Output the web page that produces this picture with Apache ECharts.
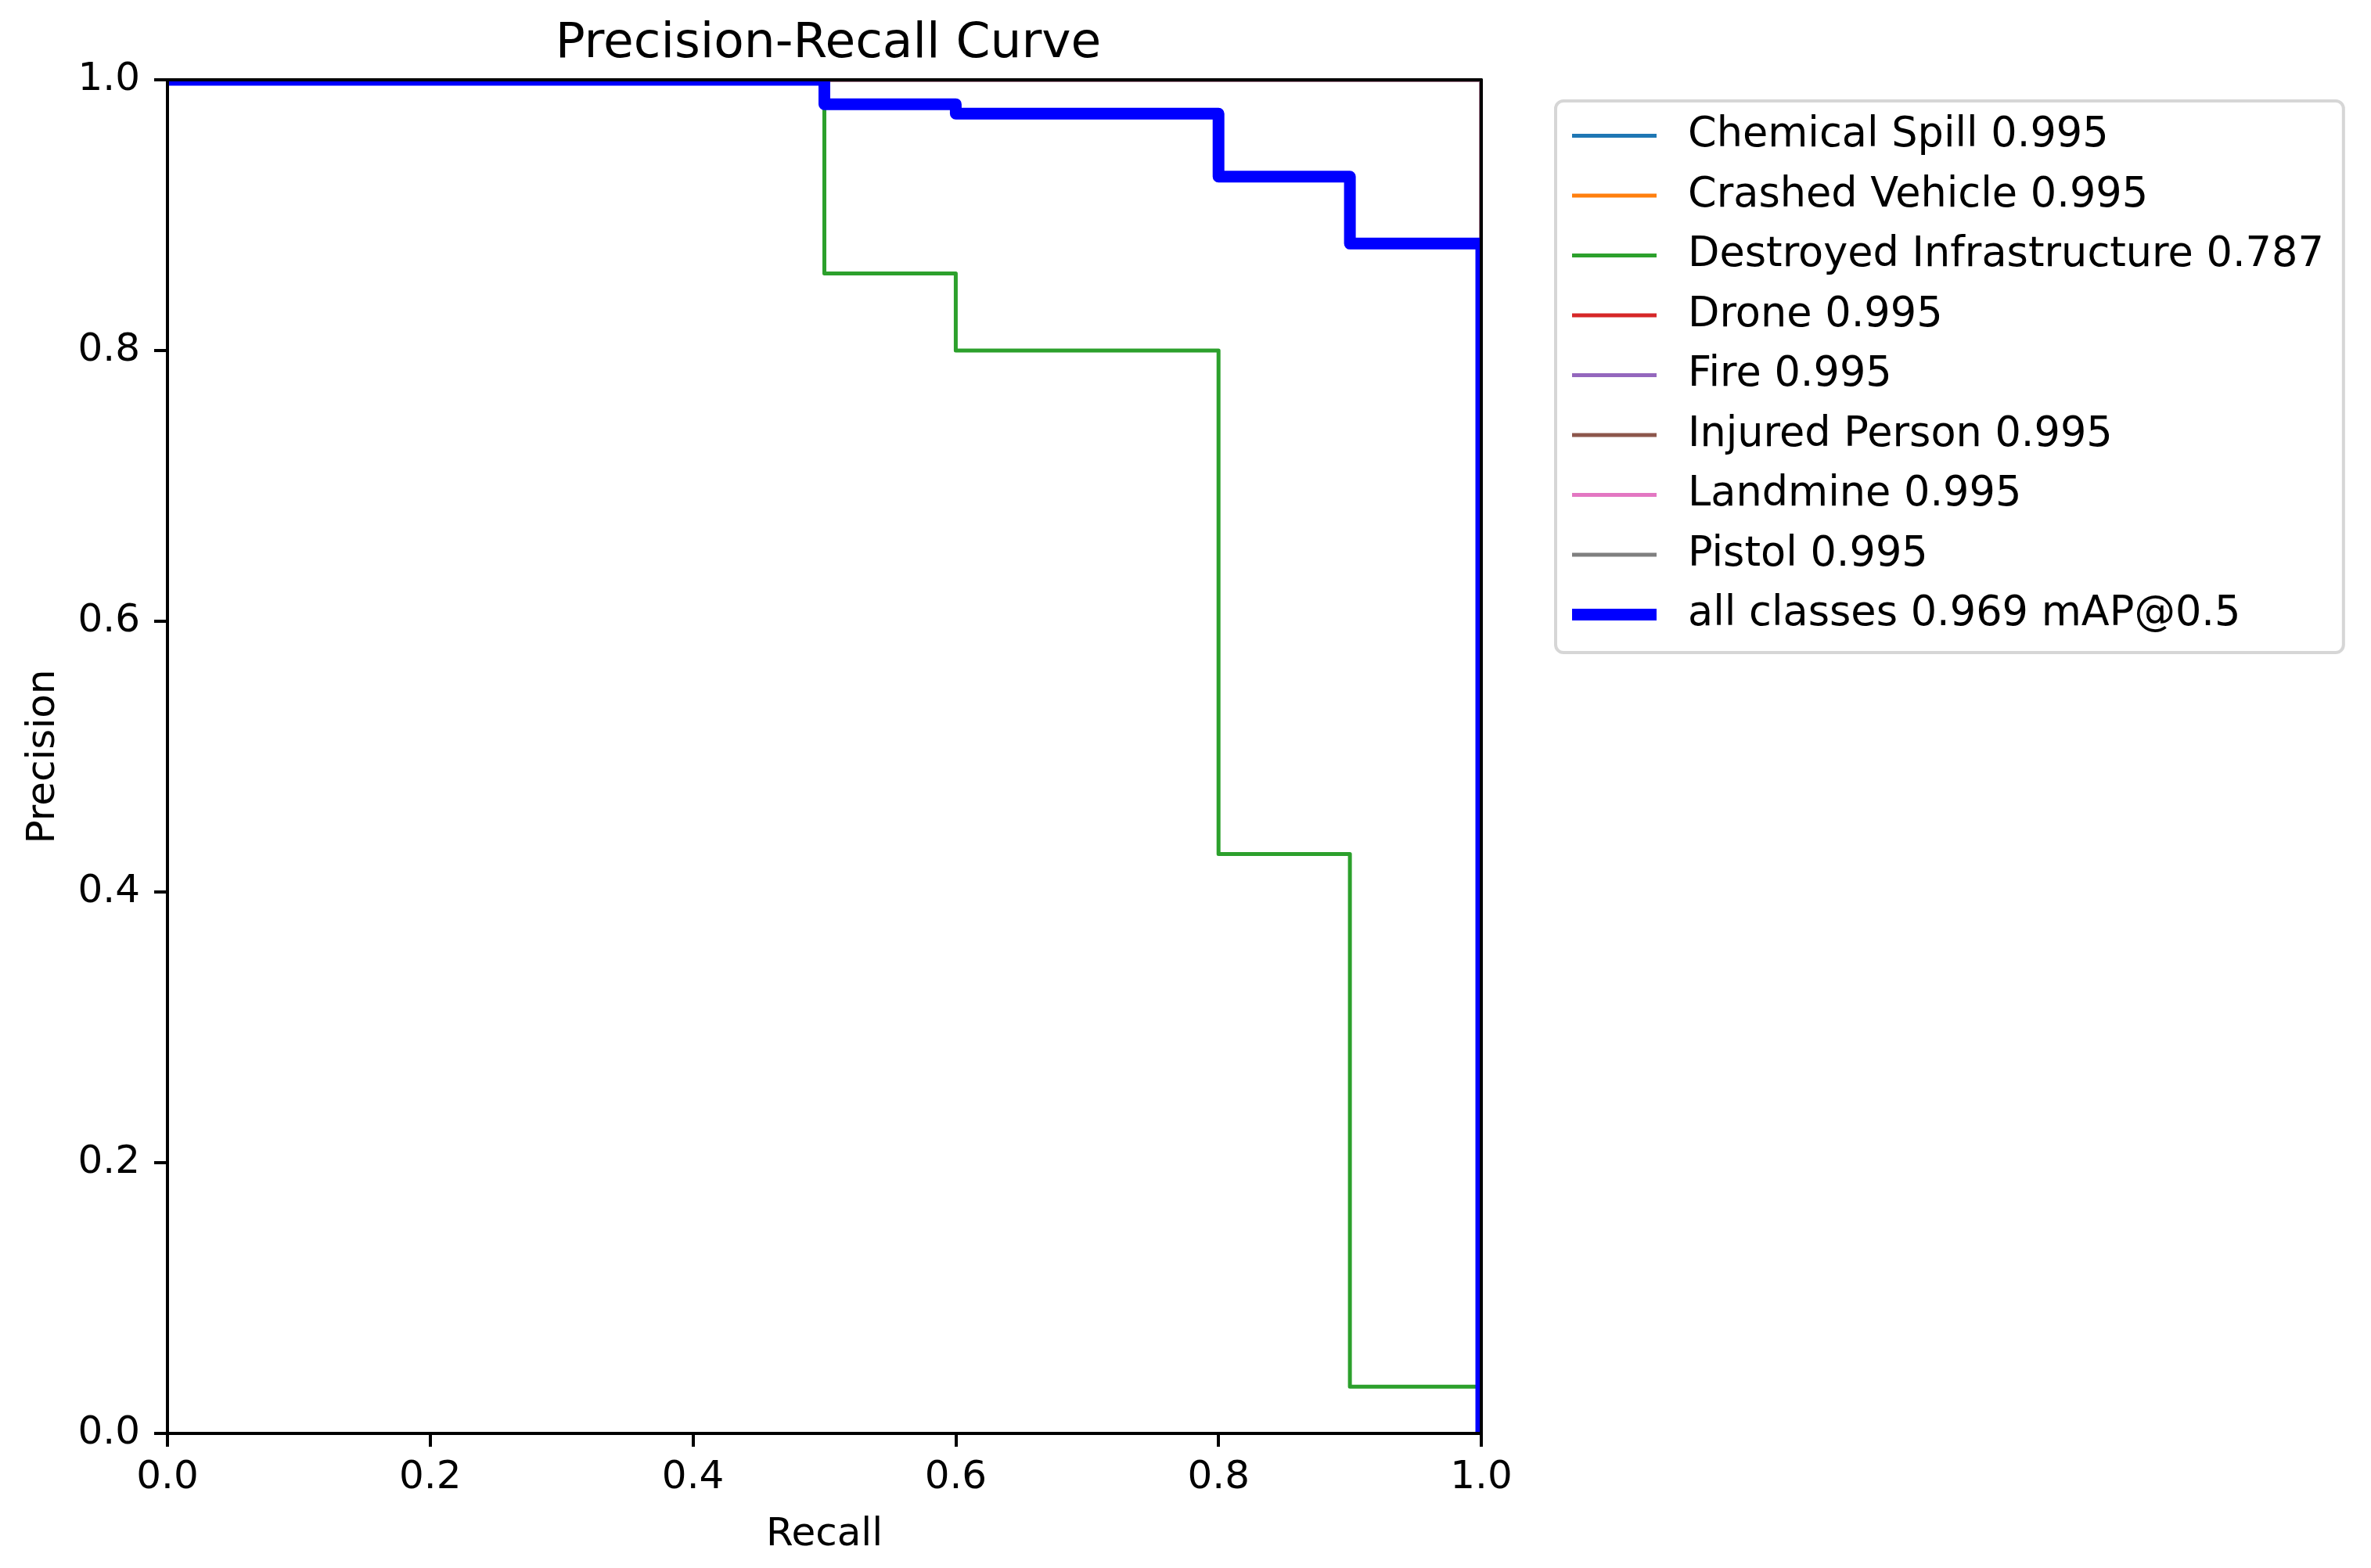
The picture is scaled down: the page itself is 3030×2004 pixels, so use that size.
<!DOCTYPE html>
<html><head><meta charset="utf-8">
<script src="https://cdn.jsdelivr.net/npm/echarts@6/dist/echarts.min.js"></script>
<style>html,body{margin:0;padding:0;background:#fff}#c{width:3030px;height:2004px}</style>
</head><body><div id="c"></div>
<script>
// ---- data (recall, precision) breakpoints of step curves ----
const classNames = ['Chemical Spill 0.995','Crashed Vehicle 0.995','Destroyed Infrastructure 0.787','Drone 0.995','Fire 0.995','Injured Person 0.995','Landmine 0.995','Pistol 0.995'];
const allClassesName = 'all classes 0.969 mAP@0.5';
const classColors = ['#1f77b4','#ff7f0e','#2ca02c','#d62728','#9467bd','#8c564b','#e377c2','#7f7f7f'];
const chemicalSpill = [[0,1],[1,0]];
const crashedVehicle = [[0,1],[1,0]];
const destroyedInfrastructure = [[0,1],[0.5,0.857],[0.6,0.8],[0.8,0.428],[0.9,0.0346],[1,0]];
const drone = [[0,1],[1,0]];
const fire = [[0,1],[1,0]];
const injuredPerson = [[0,1],[1,0]];
const landmine = [[0,1],[1,0]];
const pistol = [[0,1],[1,0]];
const allClasses = [[0,1],[0.5,0.982],[0.6,0.975],[0.8,0.9285],[0.9,0.879],[1,0]];
const tickValues = [0,0.2,0.4,0.6,0.8,1.0];

const classData = [chemicalSpill,crashedVehicle,destroyedInfrastructure,drone,fire,injuredPerson,landmine,pistol];
const FONT = 'DejaVu Sans';
const G = {left:214, right:1137, top:102, bottom:172};
const W = 3030, H = 2004;
const x1 = W - G.right, y1 = H - G.bottom;

const series = classData.map((d,i)=>({
  name: classNames[i], type:'line', data:d, step:'end', symbol:'none', showSymbol:false,
  lineStyle:{width:5, color:classColors[i], join:'round', cap:'butt'}, itemStyle:{color:classColors[i]},
  z:2, animation:false
}));
series.push({name: allClassesName, type:'line', data: allClasses, step:'end', symbol:'none', showSymbol:false,
  lineStyle:{width:15, color:'#0000ff', join:'round', cap:'butt'}, itemStyle:{color:'#0000ff'}, z:2, animation:false});

const thin = 'path://M0,0H108V5H0Z';
const thick = 'path://M0,0H108V15H0Z';
const legendData = classNames.map(n=>({name:n, icon:thin}));
legendData.push({name:allClassesName, icon:thick});

const axisBase = {
  type:'value', min:0, max:1, interval:0.2, splitLine:{show:false}, z:5,
  axisLine:{show:true, onZero:false, lineStyle:{color:'#000', width:4}},
  axisTick:{show:true, length:17, lineStyle:{color:'#000', width:4}},
  axisLabel:{show:true, fontSize:50, color:'#000', fontFamily:FONT, formatter:v=>v.toFixed(1)}
};
const frameAxis = (pos)=>({type:'value', min:0, max:1, position:pos, z:5, splitLine:{show:false},
  axisLine:{show:true, onZero:false, lineStyle:{color:'#000', width:4}}, axisTick:{show:false}, axisLabel:{show:false}});

const chart = echarts.init(document.getElementById('c'), null, {renderer:'canvas'});
chart.setOption({
  backgroundColor:'#fff',
  animation:false,
  title:{text:'Precision-Recall Curve', left:(G.left + x1)/2, textAlign:'center', top:20,
    textStyle:{fontFamily:FONT, fontSize:63, fontWeight:'normal', color:'#000'}},
  grid:{left:G.left, right:G.right, top:G.top, bottom:G.bottom, containLabel:false},
  xAxis:[Object.assign({}, axisBase, {position:'bottom', name:'Recall', nameLocation:'middle', nameGap:105,
    nameTextStyle:{fontFamily:FONT, fontSize:50, color:'#000'}, axisLabel:Object.assign({}, axisBase.axisLabel, {margin:32})}),
    frameAxis('top')],
  yAxis:[Object.assign({}, axisBase, {position:'left', name:'Precision', nameLocation:'middle', nameGap:133,
    nameTextStyle:{fontFamily:FONT, fontSize:50, color:'#000'}, axisLabel:Object.assign({}, axisBase.axisLabel, {margin:35})}),
    frameAxis('right')],
  legend:{orient:'vertical', left:1988, top:129, data:legendData, itemWidth:108, itemHeight:15, itemGap:23.5,
    padding:[18,25,22,21], backgroundColor:'#fff', borderColor:'#d6d6d6', borderWidth:4, borderRadius:10,
    selectedMode:false, symbolKeepAspect:true,
    textStyle:{fontFamily:FONT, fontSize:52.5, color:'#000', lineHeight:50, padding:[0,0,0,35]}},
  graphic:[
    {type:'rect', z:3, silent:true, shape:{x:G.left-20, y:G.top-20, width:x1-G.left+45, height:19}, style:{fill:'#fff'}},
    {type:'rect', z:3, silent:true, shape:{x:x1+1, y:G.top-20, width:22, height:y1-G.top+40}, style:{fill:'#fff'}},
    {type:'rect', z:3, silent:true, shape:{x:G.left-20, y:y1+1, width:x1-G.left+45, height:14}, style:{fill:'#fff'}}
  ],
  series: series
});
</script></body></html>
